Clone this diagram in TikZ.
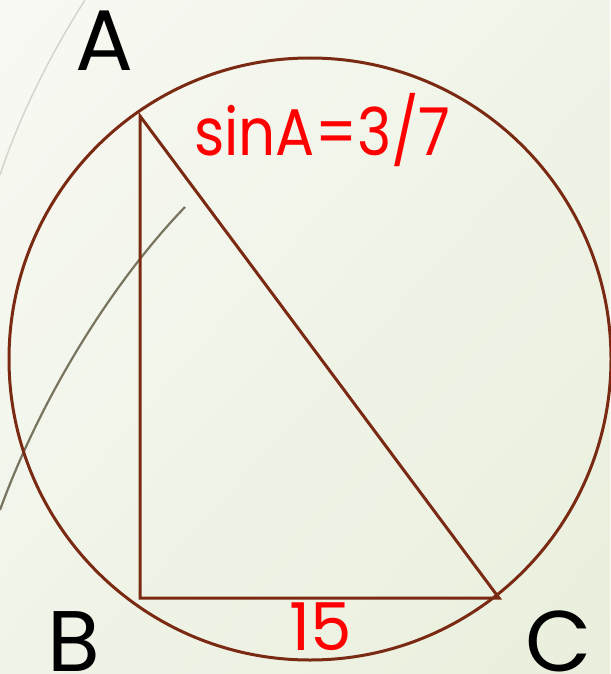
\documentclass[tikz,border=0pt]{standalone}
\usepackage{fontspec}
\setmainfont{Poppins}
\usetikzlibrary{shadings}
\begin{document}
\begin{tikzpicture}[x=1pt,y=-1pt,
  geo/.style={draw=linebrown,line width=3pt},
  vlabel/.style={anchor=base west,inner sep=0pt,text=black,font=\fontsize{86}{90}\selectfont},
  rlabel/.style={anchor=base west,inner sep=0pt,text=red,font=\fontsize{66}{70}\selectfont}]
\definecolor{linebrown}{HTML}{7A2A12}
\definecolor{bgA}{HTML}{F8F9F3}
\definecolor{bgB}{HTML}{E9EFDC}
\definecolor{bgC}{HTML}{F0F4E8}
\definecolor{arcgray}{HTML}{D2D3CB}
\definecolor{arcolive}{HTML}{78745F}
\useasboundingbox (0,0) rectangle (610,674);
\shade[upper left=bgA,lower right=bgB,upper right=bgC,lower left=bgC] (0,0) rectangle (610,674);
% decorative arcs
\draw[arcgray,line width=1.4pt] (85,0) .. controls (50,55) and (20,115) .. (0,175);
\draw[arcolive,line width=2.2pt] (185,207) .. controls (110,285) and (40,400) .. (0,510);
% circle
\coordinate (O) at (310,359);
\draw[geo] (O) circle[radius=301];
% triangle
\coordinate (A) at (140,116);
\coordinate (B) at (140,598);
\coordinate (C) at (499,598);
\draw[geo,line join=miter] (A) -- (B) -- (C) -- cycle;
% labels
\node[vlabel] (la) at (75,71) {A};
\node[vlabel] (lb) at (47,671) {B};
\node[vlabel] (lc) at (525,671) {C};
\node[rlabel] (ls) at (194,155) {\scalebox{0.88}[1]{sinA=3/7}};
\node[rlabel] (l15) at (289,650) {15};
\end{tikzpicture}
\end{document}
